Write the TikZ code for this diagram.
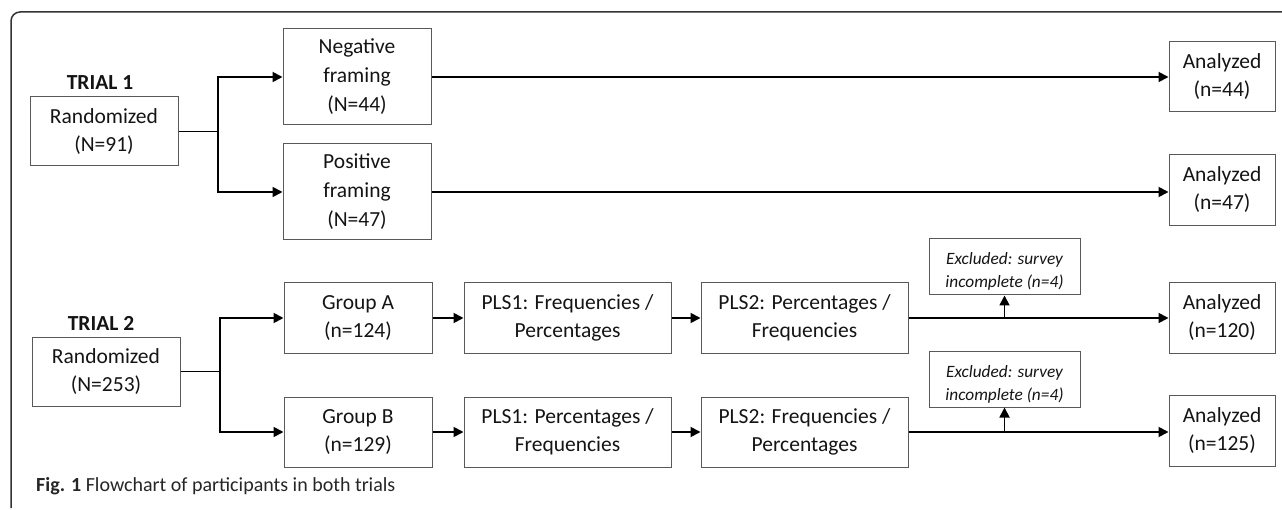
\documentclass[tikz,border=0pt]{standalone}
\usepackage{fontspec}
\setmainfont{Carlito}
\usetikzlibrary{arrows.meta}
\begin{document}
\begin{tikzpicture}[x=1pt,y=-1pt,
  box/.style={draw=black!65,line width=1pt,rectangle,align=center,inner sep=0pt,
    font=\fontsize{21.5}{28}\selectfont,text=black!92},
  exbox/.style={box,font=\fontsize{17.3}{23}\selectfont\itshape},
  arr/.style={line width=1.8pt,-{Triangle[length=10pt,width=10pt]}},
  stub/.style={line width=1pt},
  lbl/.style={font=\fontsize{21.5}{26}\selectfont\bfseries,text=black!92,inner sep=0pt}]
\useasboundingbox (0,0) rectangle (1282,510);
% frame
\draw[line width=1.5pt,black!80,rounded corners=9pt] (11,508) -- (11,12) -- (1282,12);
% Trial 1
\node[lbl] (t1) at (100,83) {TRIAL 1};
\node[box,minimum width=148,minimum height=69] (r1) at (104,131.5) {Randomized\\(N=91)};
\node[box,minimum width=148,minimum height=96,font=\fontsize{21.5}{29}\selectfont] (neg) at (357,77) {Negative\\framing\\(N=44)};
\node[box,minimum width=148,minimum height=96,font=\fontsize{21.5}{29}\selectfont] (pos) at (357,192) {Positive\\framing\\(N=47)};
\node[box,minimum width=106,minimum height=70] (an1) at (1222,77) {Analyzed\\(n=44)};
\node[box,minimum width=106,minimum height=71] (an2) at (1222,190) {Analyzed\\(n=47)};
\coordinate (j1) at (218,131.5);
\draw[stub] (r1.east) -- (j1);
\draw[arr] (j1) |- (neg.west);
\draw[arr] (j1) |- (pos.west);
\draw[arr] (neg.east) -- (an1.west);
\draw[arr] (pos.east) -- (an2.west |- pos.east);
% Trial 2
\node[lbl] (t2) at (101,323) {TRIAL 2};
\node[box,minimum width=148,minimum height=68] (r2) at (106,372) {Randomized\\(N=253)};
\node[box,minimum width=148,minimum height=71] (ga) at (358,318) {Group A\\(n=124)};
\node[box,minimum width=148,minimum height=70] (gb) at (358,432) {Group B\\(n=129)};
\node[box,minimum width=207,minimum height=71] (p1a) at (567.5,318) {PLS1: Frequencies /\\Percentages};
\node[box,minimum width=207,minimum height=71] (p2a) at (804.5,318) {PLS2: Percentages /\\Frequencies};
\node[box,minimum width=207,minimum height=70] (p1b) at (567.5,432) {PLS1: Percentages /\\Frequencies};
\node[box,minimum width=207,minimum height=70] (p2b) at (804.5,432) {PLS2: Frequencies /\\Percentages};
\node[exbox,minimum width=151,minimum height=56] (exa) at (1004.5,267) {\rule{0pt}{21pt}Excluded: survey\\incomplete (n=4)};
\node[exbox,minimum width=151,minimum height=55] (exb) at (1004.5,379.5) {\rule{0pt}{21pt}Excluded: survey\\incomplete (n=4)};
\node[box,minimum width=106,minimum height=71] (ana) at (1222,318) {Analyzed\\(n=120)};
\node[box,minimum width=106,minimum height=71] (anb) at (1222,431) {Analyzed\\(n=125)};
\coordinate (j2) at (220,372);
\draw[stub] (r2.east) -- (j2);
\draw[arr] (j2) |- (ga.west);
\draw[arr] (j2) |- (gb.west);
\draw[arr] (ga.east) -- (p1a.west);
\draw[arr] (p1a.east) -- (p2a.west);
\draw[arr] (p2a.east) -- (ana.west);
\draw[arr] (gb.east) -- (p1b.west);
\draw[arr] (p1b.east) -- (p2b.west);
\draw[arr] (p2b.east) -- (anb.west |- p2b.east);
\coordinate (ea) at (exa.south |- p2a.east);
\coordinate (eb) at (exb.south |- p2b.east);
\draw[arr] (ea) -- (exa.south);
\draw[arr] (eb) -- (exb.south);
% caption
\node[anchor=west,inner sep=0pt,font=\fontsize{20}{24}\selectfont,text=black!85] (cap) at (36,486) {\textbf{Fig. 1} Flowchart of participants in both trials};
\end{tikzpicture}
\end{document}
